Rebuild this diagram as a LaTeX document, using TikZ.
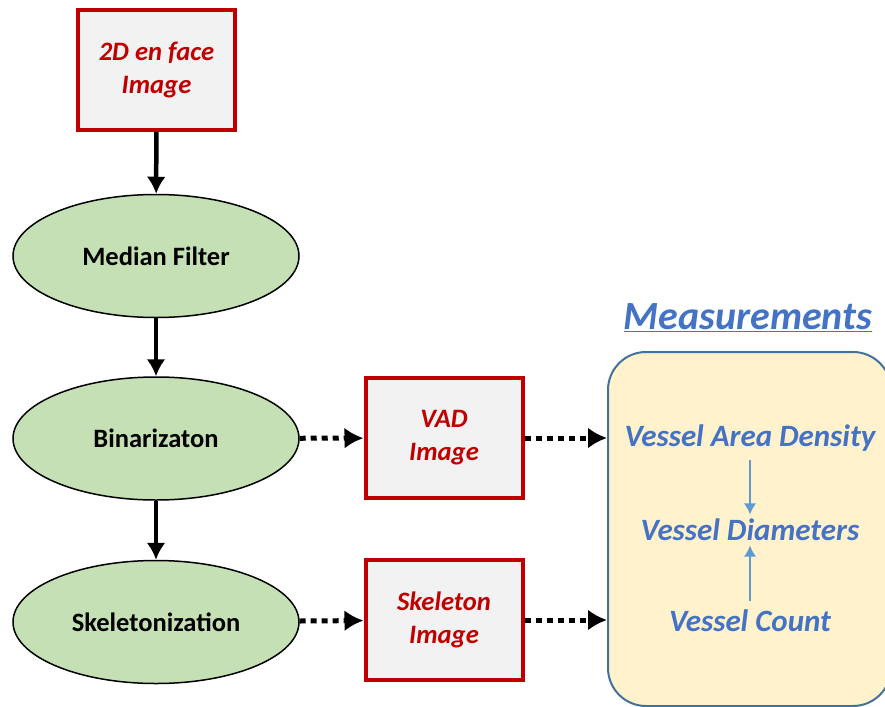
\documentclass[tikz,border=0pt]{standalone}
\usepackage{fontspec}
\setmainfont{Carlito}
\usetikzlibrary{arrows.meta,shapes.geometric}

\definecolor{imgred}{HTML}{C00000}
\definecolor{imgfill}{HTML}{F2F2F2}
\definecolor{stepgreen}{HTML}{C5E0B4}
\definecolor{measfill}{HTML}{FFF2CC}
\definecolor{measline}{HTML}{41719C}
\definecolor{measblue}{HTML}{4472C4}
\definecolor{smallblue}{HTML}{5B9BD5}

\tikzset{
  imgbox/.style={draw=imgred, fill=imgfill, line width=4pt, minimum width=157pt,
    minimum height=120pt, inner sep=0pt, align=center, text=imgred,
    font=\fontsize{26.6}{33}\selectfont\bfseries\itshape},
  stepnode/.style={ellipse, draw=black, fill=stepgreen, line width=1.5pt,
    minimum width=286pt, minimum height=123pt, inner sep=0pt,
    font=\fontsize{26.5}{32}\selectfont\bfseries},
  flow/.style={line width=4.5pt, -{Latex[length=17pt,width=19pt]}},
  dotflow/.style={line width=5pt, dash pattern=on 6pt off 5pt,
    -{Latex[length=19pt,width=21pt]}},
  measure/.style={text=measblue, font=\fontsize{31}{37}\selectfont\bfseries\itshape},
  thinflow/.style={draw=smallblue, line width=1.5pt, -{Latex[length=11pt,width=12pt]}}
}

\begin{document}
\begin{tikzpicture}[x=1pt, y=-1pt]
  \useasboundingbox (0,0) rectangle (885,706);

  % pipeline
  \node[imgbox] (face) at (156.5,70) {2D en face\\Image};
  \node[stepnode] (median) at (156,256) {Median Filter};
  \node[stepnode] (binar) at (156,438.5) {Binarizaton};
  \node[stepnode] (skel) at (156,622) {Skeletonization};

  \node[imgbox] (vad) at (444,438) {VAD\\Image};
  \node[imgbox] (skelimg) at (444,620) {Skeleton\\Image};

  % measurements
  \node[draw=measline, fill=measfill, line width=2pt, rounded corners=38pt,
    minimum width=283pt, minimum height=354pt, inner sep=0pt] (meas) at (749.5,529) {};
  \node[text=measblue, font=\fontsize{40}{46}\selectfont\bfseries\itshape]
    (meastitle) at (748,318) {\underline{Measurements}};
  \node[measure] (density) at (750,438) {Vessel Area Density};
  \node[measure] (diam) at (750,530) {Vessel Diameters};
  \node[measure] (count) at (750,621) {Vessel Count};

  \draw[flow] (face) -- (median);
  \draw[flow] (median) -- (binar);
  \draw[flow] (binar) -- (skel);

  \draw[dotflow] (binar) -- (vad);
  \draw[dotflow] (skel) -- (skelimg);
  \draw[dotflow] (vad) -- (vad -| meas.west);
  \draw[dotflow] (skelimg) -- (skelimg -| meas.west);

  \draw[thinflow] ([yshift=-5pt]density.south) -- ([yshift=1pt]diam.north);
  \draw[thinflow] ([yshift=5pt]count.north) -- ([yshift=-1pt]diam.south);

\end{tikzpicture}
\end{document}
